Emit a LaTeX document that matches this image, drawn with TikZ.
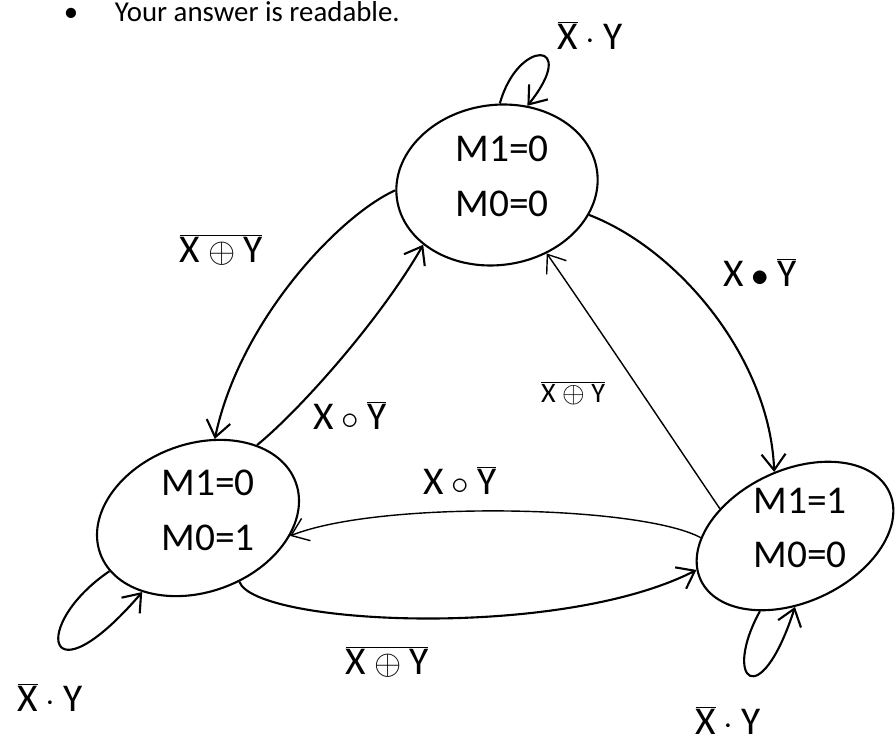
\documentclass[tikz,border=0pt]{standalone}
\usepackage{fontspec}
\setmainfont{Carlito}
\usetikzlibrary{arrows.meta,shapes.geometric}
\tikzset{
  >={Straight Barb[length=4mm,width=6mm]},
  state/.style={ellipse,draw,line width=1.5pt,inner sep=0pt},
  statetext/.style={font=\fontsize{28}{39}\selectfont,align=center},
  flow/.style={->,line width=1.5pt},
  tag/.style={font=\fontsize{28}{32}\selectfont},
  tag small/.style={font=\fontsize{20}{24}\selectfont},
}

\begin{document}
\begin{tikzpicture}[x=0.025cm,y=-0.025cm]
  \fill[white] (0,0) rectangle (896,754);
  \useasboundingbox (0,0) rectangle (896,754);

  % header line of the sheet
  \node[anchor=base,font=\fontsize{20.5}{24}\selectfont] (dot) at (71,22) {\textbullet};
  \node[anchor=base west,font=\fontsize{20.5}{24}\selectfont] (hint) at (110,22) {Your answer is readable.};

  % states
  \node[state,rotate=8,minimum width=5.05cm,minimum height=4cm] (s00) at (497,185) {};
  \node[state,rotate=20,minimum width=5.2cm,minimum height=3.7cm] (s01) at (198,518) {};
  \node[state,rotate=25,minimum width=5.2cm,minimum height=3.3cm] (s10) at (795,536) {};
  \node[statetext] (t00) at (502,176) {M1=0\\M0=0};
  \node[statetext] (t01) at (208,510) {M1=0\\M0=1};
  \node[statetext] (t10) at (800,528) {M1=1\\M0=0};

  % transitions
  \draw[flow] (s00.80) .. controls (518,38) and (580,40) .. (s00.61);
  \draw[flow] (s00.175) .. controls (340,215) and (240,320) .. (s01.58);
  \draw[flow] (s01.31) .. controls (300,410) and (380,320) .. (s00.211);
  \draw[flow] (s00.334) .. controls (680,250) and (770,360) .. (s10.83);
  \draw[flow,line width=1pt] (s10.135) .. controls (680,450) and (600,330) .. (s00.298);
  \draw[flow,line width=1pt] (s10.156) .. controls (640,505) and (380,500) .. (s01.329);
  \draw[flow] (s01.283) .. controls (255,625) and (560,640) .. (s10.174);
  \draw[flow] (s01.191) .. controls (30,625) and (45,705) .. (s01.213);
  \draw[flow] (s10.220) .. controls (722,680) and (760,715) .. (s10.245);

  % conditions
  \node[tag] (c1) at (590,35) {$\overline{\mbox{X}}\cdot\mbox{Y}$};
  \node[tag] (c2) at (221,250) {$\overline{\mbox{X}\oplus\mbox{Y}}$};
  \node[tag] (c3) at (350,415) {$\mbox{X}\circ\overline{\mbox{Y}}$};
  \node[tag] (c4) at (760,272) {$\mbox{X}\bullet\overline{\mbox{Y}}$};
  \node[tag small] (c5) at (573,393) {$\overline{\mbox{X}\oplus\mbox{Y}}$};
  \node[tag] (c6) at (460,480) {$\mbox{X}\circ\overline{\mbox{Y}}$};
  \node[tag] (c7) at (387,662) {$\overline{\mbox{X}\oplus\mbox{Y}}$};
  \node[tag] (c8) at (50,697) {$\overline{\mbox{X}}\cdot\mbox{Y}$};
  \node[tag] (c9) at (728,720) {$\overline{\mbox{X}}\cdot\mbox{Y}$};
\end{tikzpicture}
\end{document}
